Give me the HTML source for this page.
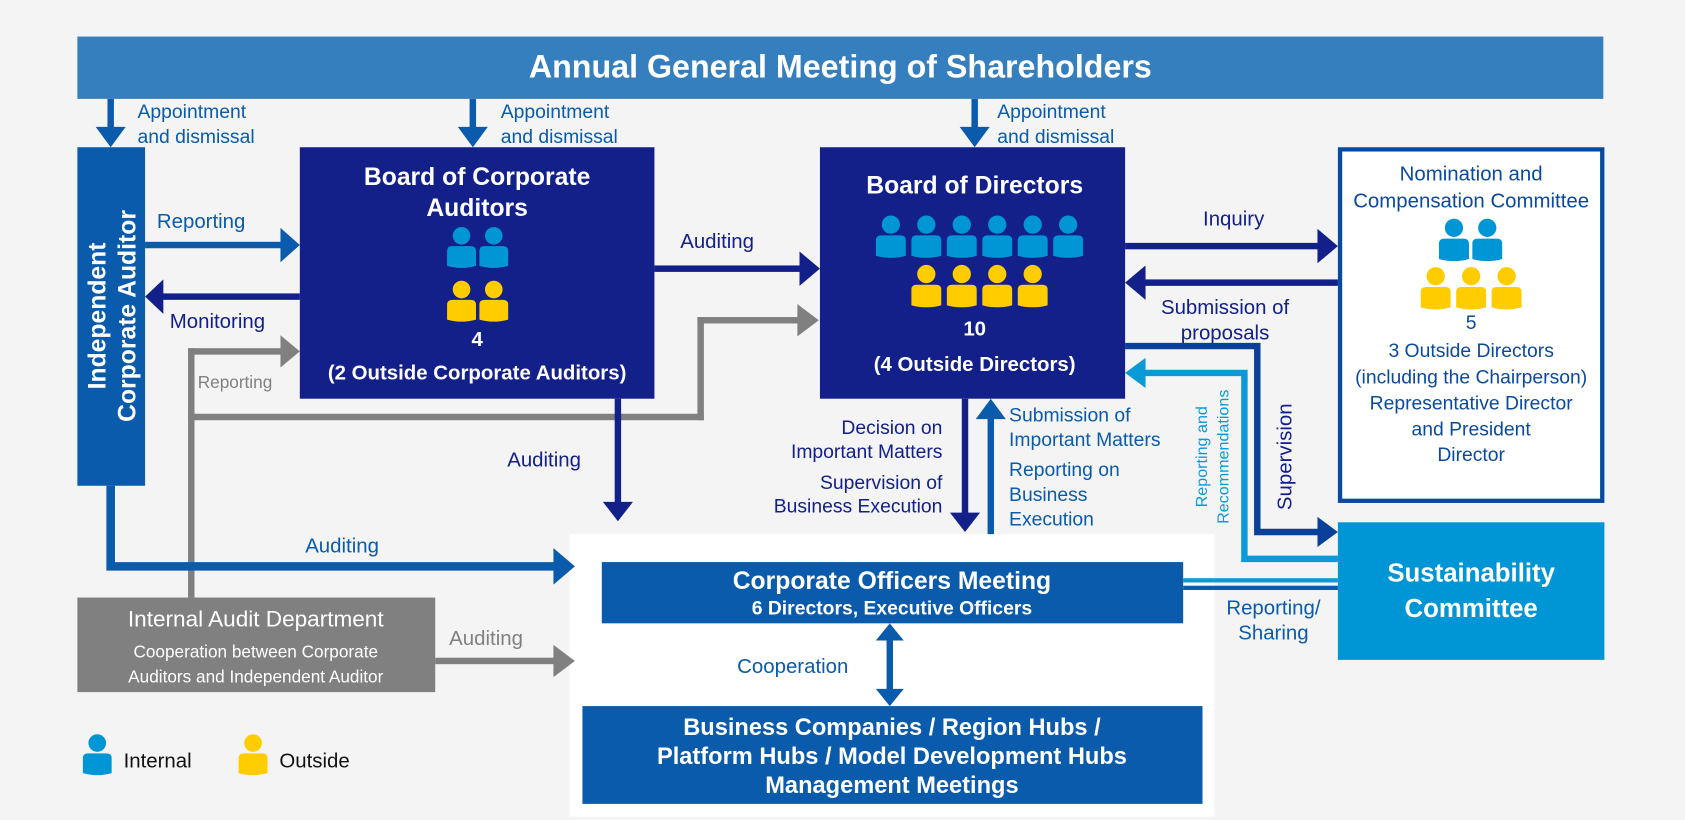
<!DOCTYPE html>
<html><head><meta charset="utf-8"><style>
html,body{margin:0;padding:0;background:#f4f4f4;}
svg{display:block;font-family:"Liberation Sans",Arial,sans-serif;}
</style></head><body>
<svg width="1685" height="820" viewBox="0 0 1568 763" preserveAspectRatio="none" xmlns="http://www.w3.org/2000/svg">
<defs>
<symbol id="p" viewBox="0 0 28 40"><circle cx="14" cy="9" r="8.5"/><path d="M0 24 Q0 19 5 19 L23 19 Q28 19 28 24 L28 38 Q14 42 0 38 Z"/></symbol>
</defs>
<rect width="1568" height="763" fill="#f4f4f4"/>
<!-- white area -->
<rect x="530" y="497" width="600" height="263" fill="#fff"/>
<!-- banner -->
<rect x="72" y="34" width="1420" height="58" fill="#357fbe"/>
<text x="782" y="72" fill="#fff" font-size="30" text-anchor="middle" font-weight="bold">Annual General Meeting of Shareholders</text>
<!-- appointment arrows -->
<g fill="#0a5bab">
<rect x="100" y="92" width="6" height="28"/><polygon points="89,118 117,118 103,137"/>
<rect x="437" y="92" width="6" height="28"/><polygon points="426,118 454,118 440,137"/>
<rect x="904" y="92" width="6" height="28"/><polygon points="893,118 921,118 907,137"/>
</g>
<g fill="#0a5bab" font-size="18">
<text x="128" y="110">Appointment</text><text x="128" y="133">and dismissal</text>
<text x="466" y="110">Appointment</text><text x="466" y="133">and dismissal</text>
<text x="928" y="110">Appointment</text><text x="928" y="133">and dismissal</text>
</g>
<!-- Independent auditor -->
<rect x="72" y="137" width="63" height="315" fill="#0a5bab"/>
<text transform="translate(98,294) rotate(-90)" fill="#fff" font-size="23" font-weight="bold" text-anchor="middle">Independent</text>
<text transform="translate(126,294) rotate(-90)" fill="#fff" font-size="23" font-weight="bold" text-anchor="middle">Corporate Auditor</text>
<!-- gray lines -->
<g fill="#808080">
<rect x="175" y="324" width="6" height="232"/>
<rect x="175" y="324" width="88" height="6"/><polygon points="261,312 279,327 261,342"/>
<rect x="175" y="385" width="480" height="6"/>
<rect x="649" y="295" width="6" height="96"/>
<rect x="649" y="295" width="96" height="6"/><polygon points="742,283 762,298 742,313"/>
<rect x="405" y="612" width="112" height="6"/><polygon points="515,600 535,615 515,630"/>
</g>
<text x="184" y="361" fill="#808080" font-size="16">Reporting</text>
<text x="418" y="600" fill="#808080" font-size="19">Auditing</text>
<!-- reporting / monitoring -->
<rect x="135" y="225" width="128" height="6" fill="#0a5bab"/><polygon points="261,212 279,228 261,244" fill="#0a5bab"/>
<text x="146" y="212" fill="#0a5bab" font-size="19">Reporting</text>
<rect x="150" y="273" width="129" height="6" fill="#13208a"/><polygon points="152,260 135,276 152,292" fill="#13208a"/>
<text x="158" y="305" fill="#13208a" font-size="19">Monitoring</text>
<!-- indep auditor auditing -->
<path d="M103 452 V527 H520" stroke="#0a5bab" stroke-width="8" fill="none"/>
<polygon points="515,510 535,527 515,544" fill="#0a5bab"/>
<text x="284" y="514" fill="#0a5bab" font-size="19">Auditing</text>
<!-- BCA -->
<rect x="279" y="137" width="330" height="234" fill="#13208a"/>
<g fill="#fff" text-anchor="middle">
<text x="444" y="172" font-size="23" font-weight="bold">Board of Corporate</text>
<text x="444" y="201" font-size="23" font-weight="bold">Auditors</text>
<text x="444" y="322" font-size="19" font-weight="bold">4</text>
<text x="444" y="353" font-size="19" font-weight="bold">(2 Outside Corporate Auditors)</text>
</g>
<g fill="#0096d6"><use href="#p" x="416" y="210" width="27" height="40"/><use href="#p" x="446" y="210" width="27" height="40"/></g>
<g fill="#ffcc00"><use href="#p" x="416" y="260" width="27" height="40"/><use href="#p" x="446" y="260" width="27" height="40"/></g>
<!-- auditing to BoD -->
<rect x="609" y="247" width="137" height="6" fill="#13208a"/><polygon points="744,234 763,250 744,266" fill="#13208a"/>
<text x="633" y="231" fill="#13208a" font-size="19">Auditing</text>
<!-- BCA down -->
<rect x="572" y="371" width="6" height="98" fill="#13208a"/><polygon points="561,467 589,467 575,485" fill="#13208a"/>
<text x="472" y="434" fill="#13208a" font-size="19">Auditing</text>
<!-- BoD -->
<rect x="763" y="137" width="284" height="234" fill="#13208a"/>
<g fill="#fff" text-anchor="middle">
<text x="907" y="180" font-size="23" font-weight="bold">Board of Directors</text>
<text x="907" y="312" font-size="19" font-weight="bold">10</text>
<text x="907" y="345" font-size="19" font-weight="bold">(4 Outside Directors)</text>
</g>
<g fill="#0096d6">
<use href="#p" x="815" y="200" width="28" height="40"/><use href="#p" x="848" y="200" width="28" height="40"/><use href="#p" x="881" y="200" width="28" height="40"/><use href="#p" x="914" y="200" width="28" height="40"/><use href="#p" x="947" y="200" width="28" height="40"/><use href="#p" x="980" y="200" width="28" height="40"/>
</g>
<g fill="#ffcc00">
<use href="#p" x="848" y="246" width="28" height="40"/><use href="#p" x="881" y="246" width="28" height="40"/><use href="#p" x="914" y="246" width="28" height="40"/><use href="#p" x="947" y="246" width="28" height="40"/>
</g>
<!-- inquiry / submission -->
<rect x="1047" y="226" width="180" height="6" fill="#13208a"/><polygon points="1226,213 1245,229 1226,245" fill="#13208a"/>
<text x="1148" y="210" fill="#13208a" font-size="19" text-anchor="middle">Inquiry</text>
<rect x="1064" y="260" width="181" height="6" fill="#13208a"/><polygon points="1066,247 1047,263 1066,279" fill="#13208a"/>
<text x="1140" y="292" fill="#13208a" font-size="19" text-anchor="middle">Submission of</text>
<text x="1140" y="316" fill="#13208a" font-size="19" text-anchor="middle">proposals</text>
<!-- supervision -->
<path d="M1047 322 H1170 V495 H1228" stroke="#0a3f9a" stroke-width="6" fill="none"/>
<polygon points="1226,481 1245,495 1226,509" fill="#0a3f9a"/>
<text transform="translate(1202,425) rotate(-90)" fill="#13208a" font-size="19" text-anchor="middle">Supervision</text>
<!-- reporting and recommendations -->
<path d="M1245 520 H1158 V347 H1064" stroke="#0a9ad8" stroke-width="6" fill="none"/>
<polygon points="1066,333 1047,347 1066,361" fill="#0a9ad8"/>
<text transform="translate(1123,425) rotate(-90)" fill="#0a9ad8" font-size="15" text-anchor="middle">Reporting and</text>
<text transform="translate(1143,425) rotate(-90)" fill="#0a9ad8" font-size="15" text-anchor="middle">Recommendations</text>
<!-- decision down -->
<rect x="895" y="371" width="6" height="108" fill="#13208a"/><polygon points="884,477 912,477 898,495" fill="#13208a"/>
<g fill="#13208a" font-size="18" text-anchor="end">
<text x="877" y="404">Decision on</text><text x="877" y="426">Important Matters</text>
<text x="877" y="455">Supervision of</text><text x="877" y="477">Business Execution</text>
</g>
<rect x="919" y="388" width="6" height="109" fill="#0a5bab"/><polygon points="908,390 936,390 922,371" fill="#0a5bab"/>
<g fill="#0a5bab" font-size="18">
<text x="939" y="392">Submission of</text><text x="939" y="415">Important Matters</text>
<text x="939" y="443">Reporting on</text><text x="939" y="466">Business</text><text x="939" y="489">Execution</text>
</g>
<!-- COM -->
<rect x="560" y="523" width="541" height="57" fill="#0a5bab"/>
<text x="830" y="548" fill="#fff" font-size="23" font-weight="bold" text-anchor="middle">Corporate Officers Meeting</text>
<text x="830" y="572" fill="#fff" font-size="18" font-weight="bold" text-anchor="middle">6 Directors, Executive Officers</text>
<rect x="1101" y="538" width="144" height="4" fill="#0a9ad8"/>
<rect x="1101" y="545" width="144" height="4" fill="#0a5bab"/>
<text x="1185" y="572" fill="#0a5bab" font-size="19" text-anchor="middle">Reporting/</text>
<text x="1185" y="595" fill="#0a5bab" font-size="19" text-anchor="middle">Sharing</text>
<!-- cooperation -->
<rect x="825" y="592" width="6" height="54" fill="#0a5bab"/>
<polygon points="815,596 841,596 828,580" fill="#0a5bab"/><polygon points="815,641 841,641 828,657" fill="#0a5bab"/>
<text x="686" y="626" fill="#0a5bab" font-size="19">Cooperation</text>
<!-- business -->
<rect x="542" y="657" width="577" height="91" fill="#0a5bab"/>
<g fill="#fff" font-size="22" font-weight="bold" text-anchor="middle">
<text x="830" y="684">Business Companies / Region Hubs /</text>
<text x="830" y="711">Platform Hubs / Model Development Hubs</text>
<text x="830" y="738">Management Meetings</text>
</g>
<!-- internal audit -->
<rect x="72" y="556" width="333" height="88" fill="#808080"/>
<text x="238" y="583" fill="#fff" font-size="21" text-anchor="middle">Internal Audit Department</text>
<text x="238" y="612" fill="#fff" font-size="16" text-anchor="middle">Cooperation between Corporate</text>
<text x="238" y="635" fill="#fff" font-size="16" text-anchor="middle">Auditors and Independent Auditor</text>
<!-- nomination -->
<rect x="1247" y="139" width="244" height="327" fill="#fff" stroke="#0a4a9e" stroke-width="4"/>
<g fill="#0a4a9e" text-anchor="middle">
<text x="1369" y="168" font-size="19">Nomination and</text>
<text x="1369" y="193" font-size="19">Compensation Committee</text>
<text x="1369" y="306" font-size="18">5</text>
<text x="1369" y="332" font-size="18">3 Outside Directors</text>
<text x="1369" y="357" font-size="18">(including the Chairperson)</text>
<text x="1369" y="381" font-size="18">Representative Director</text>
<text x="1369" y="405" font-size="18">and President</text>
<text x="1369" y="429" font-size="18">Director</text>
</g>
<g fill="#0096d6"><use href="#p" x="1339" y="203" width="28" height="40"/><use href="#p" x="1370" y="203" width="28" height="40"/></g>
<g fill="#ffcc00"><use href="#p" x="1322" y="248" width="28" height="40"/><use href="#p" x="1355" y="248" width="28" height="40"/><use href="#p" x="1388" y="248" width="28" height="40"/></g>
<!-- sustainability -->
<rect x="1245" y="486" width="248" height="128" fill="#0096d6"/>
<text x="1369" y="541" fill="#fff" font-size="24" font-weight="bold" text-anchor="middle">Sustainability</text>
<text x="1369" y="574" fill="#fff" font-size="24" font-weight="bold" text-anchor="middle">Committee</text>
<!-- legend -->
<use href="#p" x="77" y="682" width="27" height="40" fill="#0096d6"/>
<text x="115" y="714" fill="#111" font-size="19">Internal</text>
<use href="#p" x="222" y="682" width="27" height="40" fill="#ffcc00"/>
<text x="260" y="714" fill="#111" font-size="19">Outside</text>
</svg>
</body></html>
